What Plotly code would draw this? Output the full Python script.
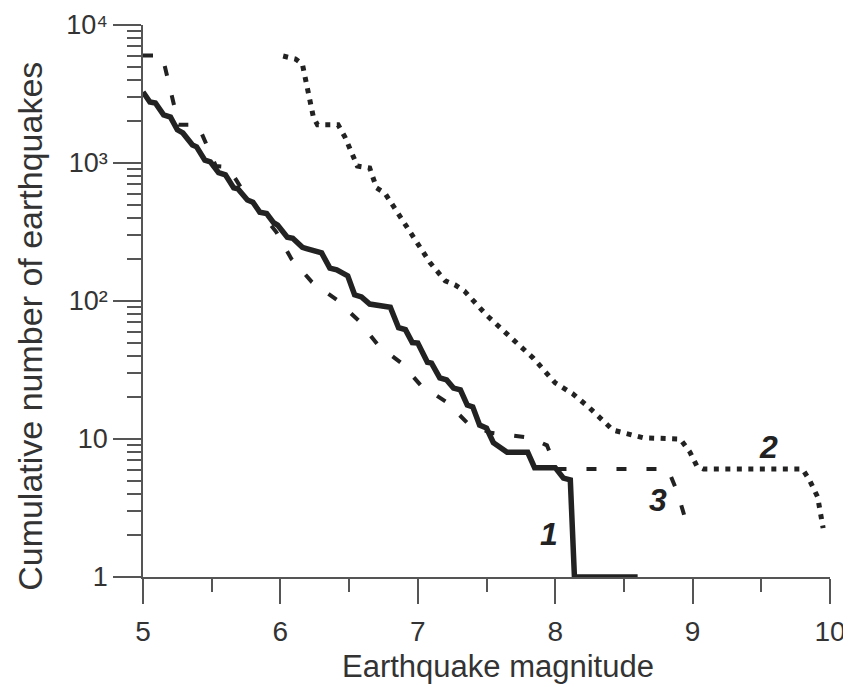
import math
import plotly.graph_objects as go

# Curve 1 (solid): (magnitude, cumulative number)
curve1 = [(5.00, 3270), (5.05, 2770), (5.09, 2720), (5.15, 2230), (5.20, 2150),
          (5.25, 1740), (5.29, 1650), (5.36, 1350), (5.39, 1310), (5.45, 1050),
          (5.49, 1020), (5.55, 850), (5.60, 820), (5.66, 660), (5.69, 650),
          (5.76, 540), (5.80, 520), (5.85, 440), (5.90, 430), (5.95, 370),
          (5.98, 355), (6.05, 290), (6.09, 285), (6.16, 245), (6.19, 240),
          (6.27, 226), (6.30, 223), (6.36, 173), (6.41, 168), (6.49, 152),
          (6.54, 111), (6.59, 107), (6.65, 95), (6.80, 90), (6.86, 64),
          (6.91, 62), (6.96, 50), (7.00, 49.6), (7.07, 36), (7.10, 35.5),
          (7.16, 27.7), (7.21, 26.8), (7.26, 23.4), (7.31, 22.7), (7.36, 17.6),
          (7.40, 17.1), (7.45, 12.6), (7.50, 12.0), (7.55, 9.4), (7.65, 8.0),
          (7.80, 8.0), (7.85, 6.2), (8.00, 6.2), (8.06, 5.2), (8.11, 5.05),
          (8.14, 1.0), (8.60, 1.0)]

# Curve 2 (dotted)
curve2 = [(6.02, 5960), (6.11, 5670), (6.16, 5215), (6.24, 2150), (6.27, 1890),
          (6.42, 1890), (6.47, 1540), (6.56, 950), (6.65, 920), (6.70, 660),
          (6.76, 606), (7.01, 255), (7.09, 189), (7.20, 140), (7.27, 131),
          (7.34, 118), (7.50, 79), (7.84, 38.6), (8.00, 25.5), (8.13, 21.2),
          (8.25, 16.8), (8.42, 11.6), (8.49, 11.1), (8.64, 10.2), (8.91, 10.0),
          (8.98, 8.05), (9.03, 6.4), (9.08, 6.06), (9.80, 6.06), (9.85, 5.05),
          (9.91, 3.8), (9.95, 2.26)]

# Curve 3 (dashed)
curve3 = [(5.00, 6000), (5.14, 6000), (5.26, 1890), (5.40, 1890), (5.53, 950),
          (5.62, 935), (5.71, 670), (5.97, 316), (6.08, 202), (6.23, 137),
          (6.41, 102), (6.57, 72), (6.71, 48), (6.88, 35.5), (7.02, 24.6),
          (7.21, 18.5), (7.37, 12.8), (7.53, 11.1), (7.82, 10.2), (7.94, 9.0),
          (8.01, 6.06), (8.82, 6.06), (8.89, 4.1), (8.97, 2.2)]

# Curve labels: (text, magnitude, count)
curve_labels = [("1", 7.955, 2.05), ("3", 8.75, 3.6), ("2", 9.55, 8.75)]

x_ticks = [5, 6, 7, 8, 9, 10]
y_ticks = [1, 10, 100, 1000, 10000]
y_ticktext = ["1", "10", "10\u00b2", "10\u00b3", "10\u2074"]
y_minor = [m * 10 ** d for d in range(4) for m in range(2, 10)]

INK = "#222222"
TXT = "#333333"
AX = "#555555"
FONT = "Liberation Sans, Arial, DejaVu Sans, sans-serif"

fig = go.Figure()
for data, dash, width in [(curve3, "10px,20px", 4), (curve2, "5px,6.5px", 5), (curve1, "solid", 5.5)]:
    fig.add_trace(go.Scatter(
        x=[p[0] for p in data], y=[p[1] for p in data], mode="lines",
        line=dict(color=INK, width=width, dash=dash),
        showlegend=False, hoverinfo="skip"))

for t, xm, yc in curve_labels:
    fig.add_annotation(x=xm, y=math.log10(yc), text=f"<b><i>{t}</i></b>",
                       showarrow=False, font=dict(size=32, color=INK, family=FONT))

fig.add_annotation(x=0.517, y=-0.163, xref="paper", yref="paper",
                   xanchor="center", yanchor="middle",
                   text="Earthquake magnitude", showarrow=False,
                   font=dict(size=31, color=TXT, family=FONT))
fig.add_annotation(x=-0.1645, y=0.455, xref="paper", yref="paper", textangle=-90,
                   xanchor="center", yanchor="middle",
                   text="Cumulative number of earthquakes", showarrow=False,
                   font=dict(size=34, color=TXT, family=FONT))

fig.update_xaxes(range=[5, 10], tickvals=x_ticks, ticks="outside", ticklen=25,
                 tickwidth=1.5, tickcolor=AX, showline=True, linecolor=AX, linewidth=1.5,
                 showgrid=False, zeroline=False, ticklabelstandoff=4, automargin=False,
                 ticklabeloverflow="allow",
                 tickfont=dict(size=28, color=TXT, family=FONT),
                 minor=dict(dtick=0.5, ticks="outside", ticklen=13, tickwidth=1.5,
                            tickcolor=AX, showgrid=False))
fig.update_yaxes(type="log", range=[0, 4], tickvals=y_ticks, ticktext=y_ticktext,
                 ticks="outside", ticklen=28, tickwidth=1.5, tickcolor=AX,
                 showline=True, linecolor=AX, linewidth=1.5, showgrid=False,
                 zeroline=False, ticklabelstandoff=0, automargin=False,
                 ticklabeloverflow="allow",
                 tickfont=dict(size=27, color=TXT, family=FONT),
                 minor=dict(tickvals=y_minor, ticks="outside", ticklen=14, tickwidth=1.5,
                            tickcolor=AX, showgrid=False))

# page body adds an 8px margin, so the figure is offset by (8, 8)
fig.update_layout(width=843, height=679, margin=dict(l=135, r=21, t=17, b=110),
                  plot_bgcolor="white", paper_bgcolor="white",
                  font=dict(family=FONT, color=TXT))
fig.write_html("out.html")
